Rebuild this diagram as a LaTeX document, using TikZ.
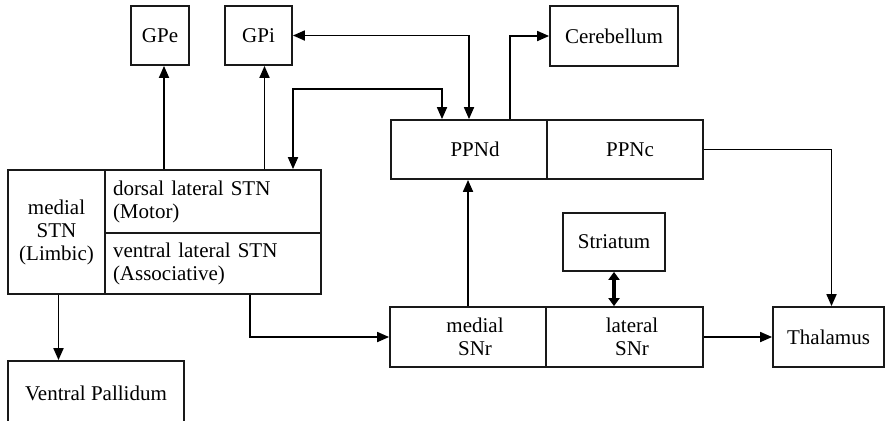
\documentclass[tikz,border=0pt]{standalone}
\usepackage{fontspec}
\setmainfont{Liberation Serif}
\usetikzlibrary{arrows.meta,positioning}
\tikzset{
  box/.style={draw=black!90, line width=0.9pt, inner sep=2pt, align=center},
  arrow/.style={-{Triangle[length=6pt,width=5pt]}, line width=0.9pt},
  twoway/.style={{Triangle[length=6pt,width=5pt]}-{Triangle[length=6pt,width=5pt]}, line width=0.9pt},
  thick twoway/.style={{Triangle[length=4pt,width=5.5pt]}-{Triangle[length=4pt,width=5.5pt]}, line width=1.8pt},
}

\begin{document}
\begin{tikzpicture}[x=0.5pt, y=-0.5pt, font=\fontsize{10.5}{11.5}\selectfont]
  \useasboundingbox (0,0) rectangle (886,420);

  % globus pallidus and cerebellum along the top
  \node[box, minimum width=29pt, minimum height=29.5pt] (GPe) at (160,35.5) {GPe};
  \node[box, minimum width=33.5pt, minimum height=29.5pt] (GPi) at (258.5,35.5) {GPi};
  \node[box, minimum width=64pt, minimum height=30pt] (cereb) at (614,36) {Cerebellum};

  % pedunculopontine nucleus
  \node[box, minimum width=78pt, minimum height=29.5pt] (PPNd) at (469,149.5) {\hspace*{6pt}PPNd};
  \node[box, minimum width=78pt, minimum height=29.5pt] (PPNc) at (625,149.5) {\hspace*{5pt}PPNc};

  % subthalamic nucleus, three parts
  \node[box, minimum width=48.5pt, minimum height=62pt] (mSTN) at (56.5,232) {medial\\STN\\(Limbic)};
  \node[box, align=left, text width=100pt, inner sep=4pt, minimum height=31.5pt] (dlSTN) at (213,201.5)
    {dorsal lateral STN\\(Motor)};
  \node[box, align=left, text width=100pt, inner sep=4pt, minimum height=30.5pt] (vlSTN) at (213,263.5)
    {ventral lateral STN\\(Associative)};

  \node[box, minimum width=51pt, minimum height=29pt] (striatum) at (614,242) {Striatum};

  % substantia nigra pars reticulata
  \node[box, minimum width=78pt, minimum height=30pt] (mSNr) at (468,337) {\hspace*{7pt}medial\\\hspace*{7pt}SNr};
  \node[box, minimum width=78.5pt, minimum height=30pt] (lSNr) at (624.5,337) {\hspace*{7.5pt}lateral\\\hspace*{7.5pt}SNr};
  \node[box, minimum width=55.5pt, minimum height=30pt] (thal) at (828.5,337) {Thalamus};

  \node[box, minimum width=88pt, minimum height=32pt] (VP) at (96,393) {Ventral Pallidum};

  % connections
  \draw[arrow] ([xshift=2pt]GPe.south |- dlSTN.north) -- ([xshift=2pt]GPe.south);
  \draw[arrow] ([xshift=3pt]GPi.south |- dlSTN.north) -- ([xshift=3pt]GPi.south);
  \draw[twoway] (GPi.east) -| (PPNd.north);
  \coordinate (bend) at (293,89);
  \draw[twoway] ([xshift=-13.5pt]PPNd.north) |- (bend) -- (bend |- dlSTN.north);
  \draw[arrow] ([xshift=20.5pt]PPNd.north) |- (cereb.west);
  \draw[arrow] (PPNc.east) -| ([xshift=1.5pt]thal.north);
  \draw[arrow] (mSNr.north) -- (mSNr.north |- PPNd.south);
  \draw[thick twoway] (striatum.south) -- (striatum.south |- lSNr.north);
  \draw[arrow] (lSNr.east) -- (thal.west);
  \draw[arrow] ([xshift=18.5pt]vlSTN.south) |- (mSNr.west);
  \draw[arrow] ([xshift=1pt]mSTN.south) -- ([xshift=1pt]mSTN.south |- VP.north);
\end{tikzpicture}
\end{document}
